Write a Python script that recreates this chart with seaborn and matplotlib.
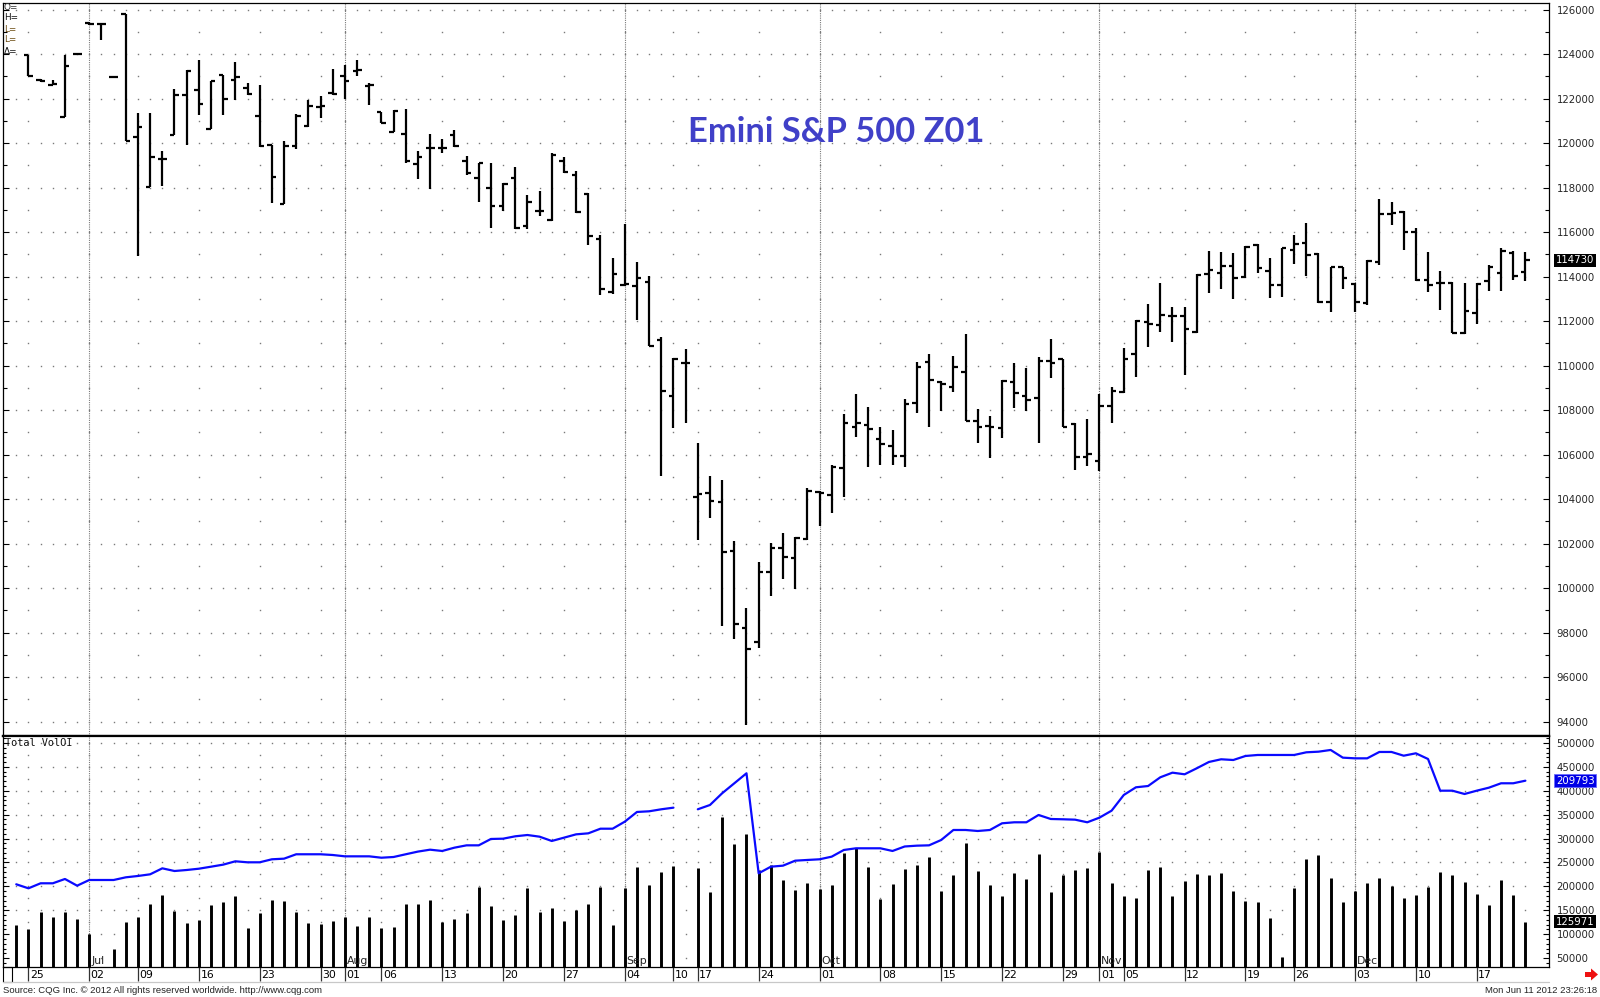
import numpy as np
import pandas as pd
import matplotlib
matplotlib.use("Agg")
import matplotlib.pyplot as plt
import seaborn as sns
from matplotlib.transforms import blended_transform_factory
from matplotlib.patches import Polygon, Rectangle
from matplotlib.lines import Line2D

sns.set_style("white")
plt.rcParams["font.family"] = ["DejaVu Sans"]

nan = np.nan

# ---------------- categories ----------------
closed_days = ["2001-07-04", "2001-09-03", "2001-09-12", "2001-09-13",
               "2001-09-14", "2001-11-22"]
dates = [d for d in pd.bdate_range("2001-06-22", "2001-12-21")
         if d.strftime("%Y-%m-%d") not in closed_days]

week_dates = ["2001-06-25", "2001-07-02", "2001-07-09", "2001-07-16", "2001-07-23",
              "2001-07-30", "2001-08-01", "2001-08-06", "2001-08-13", "2001-08-20",
              "2001-08-27", "2001-09-04", "2001-09-10", "2001-09-17", "2001-09-24",
              "2001-10-01", "2001-10-08", "2001-10-15", "2001-10-22", "2001-10-29",
              "2001-11-01", "2001-11-05", "2001-11-12", "2001-11-19", "2001-11-26",
              "2001-12-03", "2001-12-10", "2001-12-17"]
week_labels = ["25", "02", "09", "16", "23", "30", "01", "06", "13", "20", "27",
               "04", "10", "17", "24", "01", "08", "15", "22", "29", "01", "05",
               "12", "19", "26", "03", "10", "17"]
month_dates = ["2001-07-02", "2001-08-01", "2001-09-04", "2001-10-01",
               "2001-11-01", "2001-12-03"]
month_labels = ["Jul", "Aug", "Sep", "Oct", "Nov", "Dec"]

price_ticks = list(range(94000, 126001, 2000))
vol_ticks = list(range(50000, 500001, 50000))

# ---------------- series ----------------
opens = [nan, 123960, 122850, 122620, 121190, 124000, 125400, 125350, 122960, 125800,
         120270, 118020, 119280, 120370, 122170, 122390, 120640, 123070, 122840, 122470,
         121220, 119920, 117270, 119870, 120770, 121610, 122250, 123020, 123250, 122550,
         121420, 120500, 120430, 119060, 119770, 119770, 120370, 119180, 118420, 117990,
         117170, 118420, 116280, 116950, 116560, 119180, 118590, 117700, 115710, 113300,
         113610, 113570, 113750, 111170, 108620, 110100, 104100, 104290, 103890, 101690,
         98200, 97600, 100740, 101800, 101350, 102200, 104340, 104190, 105390, 107230,
         107340, 106690, 106390, 105940, 108310, 110180, 109270, 109030, 109730, 107530,
         107290, 107220, 109280, 108640, 108540, 110230, 110290, 107380, 105880, 105730,
         108190, 108830, 110530, 111980, 111830, 112230, 112230, 111530, 114120, 114180,
         114480, 113970, 115430, 114270, 113630, 115200, 115500, 115020, 112880, 114420,
         113670, 112800, 114670, 116820, 116920, 116020, 113850, 113700, 113730, 111480,
         112360, 113820, 114180, 115080, 114230]
highs = [nan, 123960, 122900, 122840, 123960, 124050, 125450, 125360, 123000, 125800,
         121340, 121340, 119650, 122420, 123290, 123740, 122810, 123070, 123660, 122720,
         122620, 119920, 120110, 121310, 121940, 122120, 123320, 123510, 123740, 122700,
         121420, 121490, 121550, 119630, 120430, 120200, 120610, 119410, 119130, 119130,
         118200, 118910, 117670, 117850, 119540, 119360, 118740, 117760, 115890, 114850,
         116370, 114680, 114020, 111300, 110330, 110760, 106540, 105060, 104860, 102140,
         99100, 101190, 102050, 102470, 102290, 104490, 104380, 105540, 107830, 108720,
         108130, 107230, 107110, 108490, 110180, 110530, 109330, 110440, 111410, 108040,
         107740, 109360, 110140, 109880, 110380, 111190, 110290, 107410, 107590, 108730,
         109060, 110780, 112060, 112770, 113700, 112630, 112650, 114120, 115170, 115120,
         115080, 115380, 115470, 114830, 115280, 115870, 116400, 115050, 114420, 114450,
         113730, 114750, 117480, 117370, 116970, 116180, 115120, 114270, 113780, 113730,
         113700, 114530, 115280, 115170, 115120]
lows = [nan, 123020, 122750, 122600, 121190, 123950, 125300, 124640, 122920, 120110,
        114930, 118020, 118080, 120370, 119920, 121270, 120640, 121270, 121940, 122170,
        119840, 117330, 117270, 119730, 120740, 121120, 122170, 121970, 123020, 121720,
        120920, 120500, 119090, 118380, 117940, 119540, 119840, 118560, 117350, 116210,
        116960, 116150, 116150, 116740, 116510, 118650, 116870, 115440, 113180, 113220,
        113570, 112060, 110870, 105060, 107200, 107430, 102180, 103140, 98300, 97700,
        93850, 97300, 99660, 100400, 99970, 102170, 102800, 103400, 104090, 106810,
        105460, 105540, 105540, 105440, 107890, 107230, 107970, 108830, 107530, 106510,
        105840, 106740, 108090, 107980, 106510, 109430, 107230, 105310, 105490, 105280,
        107410, 108760, 109480, 110830, 111530, 111080, 109580, 111480, 113280, 113430,
        112990, 113930, 114180, 113030, 113080, 114570, 114030, 112830, 112430, 113430,
        112430, 112730, 114530, 116320, 115200, 113820, 113330, 112500, 111460, 111430,
        111880, 113370, 113370, 113850, 113820]
closes = [nan, 123020, 122800, 122650, 123480, 124000, 125350, 125350, 122960, 120110,
          120740, 119390, 119280, 122170, 123260, 121760, 122810, 121970, 122990, 122210,
          119870, 118470, 119870, 121220, 121670, 121670, 122200, 122810, 123300, 122600,
          120920, 121450, 119180, 119390, 119800, 119770, 119890, 118650, 119090, 117170,
          118170, 116210, 117350, 116950, 119450, 118700, 116920, 115850, 113430, 114110,
          113660, 113930, 110870, 108860, 110280, 110100, 104230, 103920, 101640, 98390,
          97260, 100740, 101800, 101420, 102240, 104380, 104290, 105460, 107410, 107410,
          107140, 106480, 105940, 108280, 109930, 109360, 109180, 109930, 107530, 107260,
          107230, 109330, 108790, 108460, 110230, 110140, 107230, 105880, 106030, 108190,
          108880, 110290, 112020, 111880, 112280, 112230, 111640, 114080, 114300, 114480,
          113930, 115350, 114380, 113630, 115280, 115470, 114980, 112880, 114420, 113930,
          112880, 114720, 116820, 116850, 116020, 113850, 113630, 113730, 111480, 112470,
          113670, 114420, 115170, 114030, 114730]
volume = [119250, 110200, 145800, 136700, 147100, 131800, 101000, 24000, 68400, 125500,
          135400, 162600, 182700, 148500, 123400, 129700, 160900, 167400, 179300, 113000,
          143700, 170900, 168800, 145800, 123400, 121300, 128300, 135400, 116500, 136700,
          113000, 114400, 162600, 163800, 170900, 126200, 131200, 143700, 198100, 159000,
          129700, 140200, 196000, 146500, 155400, 128300, 150600, 162600, 198100, 119900,
          196000, 240000, 202900, 229500, 243400, nan, 238500, 188900, 345800, 288700,
          309600, 234300, 244800, 213400, 192500, 207800, 194600, 202900, 269200, 279700,
          240000, 173000, 205000, 236400, 245500, 262200, 191000, 223200, 290200, 232200,
          202900, 179300, 228000, 216100, 268400, 187700, 224500, 234900, 238500, 272000,
          207800, 180600, 175100, 233700, 240600, 179300, 211300, 226600, 223200, 228000,
          191000, 169500, 166700, 133300, 52900, 196000, 257300, 265700, 218200, 167400,
          191000, 206500, 218200, 201500, 176000, 182700, 199600, 230700, 223900, 209200,
          184100, 160400, 214000, 182700, 125971]
open_interest = [204400, 196000, 206500, 206500, 215500, 201500, 213400, 213400, 213400, 219000,
                 221800, 225300, 237800, 232200, 234300, 237000, 241200, 245500, 252500, 250400,
                 250400, 256700, 258000, 267200, 267200, 267200, 265700, 262900, 262900, 262900,
                 260000, 261500, 267200, 272800, 276800, 274100, 281000, 285900, 285900, 299200,
                 299800, 304800, 307500, 304000, 295000, 301900, 308900, 311000, 320700, 320700,
                 335400, 355700, 357100, 361300, 364700, nan, 361300, 370300, 394800, 415700,
                 436600, 227400, 241200, 243400, 253800, 255300, 256700, 262200, 276200, 279700,
                 279700, 279700, 274100, 283500, 285200, 285900, 297100, 318000, 318000, 315900,
                 318000, 332000, 334100, 334100, 349400, 341000, 340400, 339600, 334100, 343800,
                 358400, 391200, 407300, 410000, 428200, 437900, 434500, 447100, 460300, 465900,
                 464400, 472800, 474900, 474900, 474900, 474900, 480500, 481800, 485400, 469300,
                 467900, 467900, 481200, 481200, 473400, 478400, 466500, 400200, 400200, 393300,
                 400200, 406500, 415700, 415700, 421100]
oi_label = "209793"

# ---------------- layout helpers ----------------
W, H = 1600, 997
def fx(px):
    return px / W
def fy(py):
    return 1 - py / H

fig = plt.figure(figsize=(W / 100, H / 100), dpi=100)
fig.patch.set_facecolor("white")
L, R, T, MID, BOT = 3, 1549, 3, 736, 967
ax_p = fig.add_axes([fx(L), fy(MID), (R - L) / W, (MID - T) / H])
ax_v = fig.add_axes([fx(L), fy(BOT), (R - L) / W, (BOT - MID) / H])

n = len(dates)
xs = np.arange(n)
date_str = [d.strftime("%Y-%m-%d") for d in dates]
week_pos = [date_str.index(d) for d in week_dates]
month_pos = [date_str.index(d) for d in month_dates]
xlim = (-1.09, 125.94)

dot_color = "#7a7a7a"
mline = dict(color="#7a7a7a", lw=0.8, ls=(0, (1, 1)), zorder=1)

# ---------------- price panel ----------------
ax_p.set_xlim(*xlim)
ax_p.set_ylim(93359, 126301)
dense_y = np.arange(94000, 126001, 2000)
sparse_y = np.arange(95000, 126001, 2000)
gx, gy = np.meshgrid(xs, dense_y)
ax_p.plot(gx.ravel(), gy.ravel(), ls="none", marker="s", ms=1.0, mew=0, color=dot_color, zorder=1)
gx, gy = np.meshgrid(week_pos, sparse_y)
ax_p.plot(gx.ravel(), gy.ravel(), ls="none", marker="s", ms=1.0, mew=0, color=dot_color, zorder=1)
for m in month_pos:
    ax_p.axvline(m, **mline)

o = np.array(opens, float); h = np.array(highs, float)
lo = np.array(lows, float); c = np.array(closes, float)
ok = ~np.isnan(o)
ax_p.vlines(xs[ok], lo[ok], h[ok], color="black", lw=1.6, zorder=3)
ax_p.hlines(o[ok], xs[ok] - 0.37, xs[ok], color="black", lw=1.6, zorder=3)
ax_p.hlines(c[ok], xs[ok], xs[ok] + 0.37, color="black", lw=1.6, zorder=3)

ax_p.set_xticks([])
ax_p.set_yticks(price_ticks)
ax_p.set_yticklabels([str(v) for v in price_ticks])
ax_p.set_yticks(np.arange(94000, 126001, 1000), minor=True)
ax_p.yaxis.set_ticks_position("both")
ax_p.tick_params(axis="y", which="both", direction="in", labelleft=False, labelright=True,
                 labelsize=7.3, pad=5.5, color="black", width=0.8)
ax_p.tick_params(axis="y", which="major", length=4)
ax_p.tick_params(axis="y", which="minor", length=3)
for s in ax_p.spines.values():
    s.set_color("black"); s.set_linewidth(0.9)
ax_p.spines["bottom"].set_linewidth(1.6)
ax_p.grid(False)

tr_p = blended_transform_factory(ax_p.transAxes, ax_p.transData)
ax_p.text(1.0045, closes[-1], str(closes[-1]), transform=tr_p, ha="left", va="center",
          fontsize=7.3, color="white",
          bbox=dict(boxstyle="square,pad=0.15", facecolor="black", edgecolor="none"))

# ---------------- volume panel ----------------
ax_v.set_xlim(*xlim)
ax_v.set_ylim(31400, 514600)
dense_v = np.arange(50000, 500001, 50000)
sparse_v = np.arange(75000, 500001, 50000)
gx, gy = np.meshgrid(xs, dense_v)
ax_v.plot(gx.ravel(), gy.ravel(), ls="none", marker="s", ms=1.0, mew=0, color=dot_color, zorder=1)
gx, gy = np.meshgrid(week_pos, sparse_v)
ax_v.plot(gx.ravel(), gy.ravel(), ls="none", marker="s", ms=1.0, mew=0, color=dot_color, zorder=1)
for m in month_pos:
    ax_v.axvline(m, **mline)

vol = np.array(volume, float)
vk = ~np.isnan(vol)
ax_v.vlines(xs[vk], 0, vol[vk], color="black", lw=2.1, zorder=3)

df = pd.DataFrame({"day": xs, "oi": open_interest})
df["seg"] = (df["day"] > date_str.index("2001-09-11")).astype(int)
df = df.dropna()
sns.lineplot(data=df, x="day", y="oi", units="seg", estimator=None, color="#0a0aff",
             lw=1.6, ax=ax_v, legend=False, zorder=4)
ax_v.set_xlabel("")
ax_v.set_ylabel("")

ax_v.set_yticks(vol_ticks)
ax_v.set_yticklabels([str(v) for v in vol_ticks])
ax_v.set_yticks(np.arange(40000, 510001, 10000), minor=True)
ax_v.yaxis.set_ticks_position("both")
ax_v.tick_params(axis="y", which="both", direction="in", labelleft=False, labelright=True,
                 labelsize=7.3, pad=5.5, color="black", width=0.8)
ax_v.tick_params(axis="y", which="major", length=4)
ax_v.tick_params(axis="y", which="minor", length=2.5)
ax_v.set_xticks(week_pos)
ax_v.set_xticklabels([])
ax_v.tick_params(axis="x", which="major", direction="out", length=10, width=0.9,
                 color="#333333", bottom=True, labelbottom=False)
for s in ax_v.spines.values():
    s.set_color("black"); s.set_linewidth(0.9)
ax_v.spines["top"].set_linewidth(1.6)
ax_v.grid(False)

tr_v = blended_transform_factory(ax_v.transData, ax_v.transAxes)
for p, lab in zip(week_pos, week_labels):
    ax_v.text(p + 0.12, -0.036, lab, transform=tr_v, ha="left", va="center",
              fontsize=7.8, color="black")
for p, lab in zip(month_pos, month_labels):
    ax_v.text(p + 0.15, 0.006, lab, transform=tr_v, ha="left", va="bottom",
              fontsize=7.8, color="#222222", zorder=5)

ax_v.text(0.001, 0.968, "Total VolOI", transform=ax_v.transAxes, ha="left", va="center",
          fontsize=7.4, family="DejaVu Sans Mono", color="#111111")

tr_v2 = blended_transform_factory(ax_v.transAxes, ax_v.transData)
ax_v.text(1.0045, open_interest[-1], oi_label, transform=tr_v2, ha="left", va="center",
          fontsize=7.3, color="white",
          bbox=dict(boxstyle="square,pad=0.15", facecolor="#0000e6", edgecolor="#6a6aff", lw=0.6))
ax_v.text(1.0045, volume[-1], str(volume[-1]), transform=tr_v2, ha="left", va="center",
          fontsize=7.3, color="white",
          bbox=dict(boxstyle="square,pad=0.15", facecolor="black", edgecolor="none"))

# ---------------- figure texts ----------------
fig.text(fx(836.5), fy(141.7), "Emini S&P 500 Z01", ha="center", va="baseline",
         fontsize=24.8, fontweight="bold", family=["Lato", "DejaVu Sans"], color="#4040c8")

for i, (lab, col) in enumerate(zip(["O=", "H=", "L=", "L=", "Δ="],
                                   ["#333333", "#111111", "#6b4a10", "#6b4a10", "#111111"])):
    fig.text(fx(4), fy(7 + i * 11), lab, ha="left", va="center", fontsize=6.4, color=col)

fig.text(fx(3), fy(990), "Source: CQG Inc. © 2012 All rights reserved worldwide. http://www.cqg.com",
         ha="left", va="center", fontsize=6.8, family=["Liberation Sans", "DejaVu Sans"], color="#222222")
fig.text(fx(1597), fy(990), "Mon Jun 11 2012 23:26:18", ha="right", va="center",
         fontsize=6.8, family=["Liberation Sans", "DejaVu Sans"], color="#222222")

fig.add_artist(Line2D([fx(3), fx(1549)], [fy(982), fy(982)], color="#c8c8c8", lw=0.9))
fig.add_artist(Rectangle((fx(3), fy(982)), 9 / W, 15 / H, fill=False, edgecolor="black", lw=0.8))

arrow_px = [(1585, 972), (1591, 972), (1591, 968.5), (1598, 974.5), (1591, 980.5),
            (1591, 977), (1585, 977)]
fig.add_artist(Polygon([(fx(a), fy(b)) for a, b in arrow_px], closed=True,
                       facecolor="#ee1111", edgecolor="none"))

fig.savefig("out.png", dpi=100, facecolor="white")
